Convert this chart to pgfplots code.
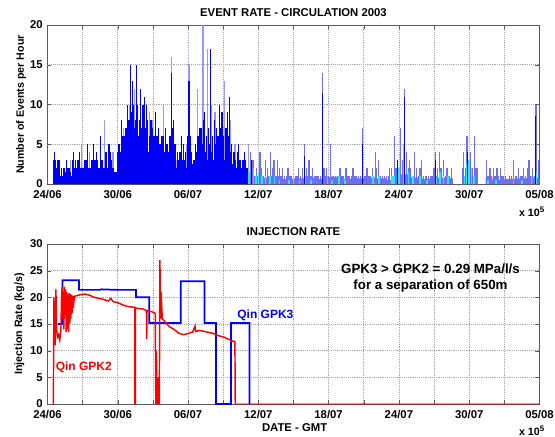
\documentclass[border=0pt]{standalone}
\usepackage{pgfplots}
\pgfplotsset{compat=1.18}
\usepackage{fontspec}
\setmainfont{Liberation Sans}
\definecolor{dkb}{RGB}{0,0,245}
\definecolor{ltb}{RGB}{150,150,255}
\definecolor{peri}{RGB}{110,110,245}
\definecolor{cyn}{RGB}{40,230,255}
\definecolor{axc}{RGB}{90,90,90}
\pgfplotsset{
  mstyle/.style={
    scale only axis, width=369pt, xmin=0, xmax=42,
    xtick={0,3,...,42},
    xticklabels={24/06,,30/06,,06/07,,12/07,,18/07,,24/07,,30/07,,05/08},
    xticklabel style={yshift=-1pt},
    grid=major, grid style={densely dotted, black!35},
    tick align=inside, major tick length=3pt,
    axis line style={axc}, tick style={axc},
    tick label style={font=\bfseries\fontsize{8.5}{10}\selectfont},
    /pgf/number format/assume math mode=true,
    title style={font=\bfseries\fontsize{8.5}{10}\selectfont, yshift=-3pt},
  }
}
\begin{document}
\begin{tikzpicture}
\useasboundingbox (0,0) rectangle (416.25pt,-327pt);
\begin{axis}[mstyle, at={(35.6pt,-138pt)}, anchor=south west, height=119.25pt,
  ymin=0, ymax=20, ytick={0,5,...,20},
  title={EVENT RATE - CIRCULATION 2003}]
% light peaks (behind)
\addplot[ycomb, ltb, line width=0.9pt] coordinates {
(2.91,5)(4.86,8)(6.5,7)(7.0,10)(7.4,12)(8.2,10)(9.0,8)(10.58,16)(11.9,5)(12.08,15)(12.8,12)(13.28,20)(13.64,17)(14.0,10)(15.14,13)(16.0,5)(17.18,5)(5.6,4)(3.6,4)(2.0,3)(8.7,9)(9.9,10)(14.3,9)(15.6,8)};
% base fill
\addplot[const plot, fill=dkb, draw=none] coordinates {
(0.5,1.5)(1.0,1)(1.5,1.5)(2.0,1)(2.5,1.5)(3.0,1.5)(3.5,2)(4.0,1.5)(4.5,2)(5.0,2)(5.5,1.5)(6.0,2)(6.5,3)(7.0,4)(7.5,4.5)(8.0,4)(8.5,3.5)(9.0,3)(9.5,3.5)(10.0,3)(10.5,3)(11.0,1.5)(11.5,2)(12.0,2.5)(12.5,2)(13.0,2.5)(13.5,3)(14.0,3)(14.5,2.5)(15.0,3)(15.5,2.5)(16.0,2)(16.5,2)(17.0,1.5)(17.2,0)} \closedcycle;
\addplot[const plot, fill=peri, draw=none] coordinates {
(17.2,1)(18,0.8)(19,1)(20,0.6)(21,0.7)(22,0.8)(23,0.6)(24,0.9)(25,0.6)(26,0.7)(27,0.8)(28,0.7)(29,0.5)(29.5,1)(30,1.2)(31,0.8)(32,0.6)(33,0.8)(34,0.7)(34.6,0)(35.4,1)(36.7,0)(37.4,0.7)(38,0.5)(39,0.6)(40,0.7)(41,0.8)(42,0.8)} \closedcycle;
% base dense
\addplot[ycomb, dkb, line width=1.8pt] coordinates {
(0.6,3)(0.8,2)(1.0,3)(1.2,1)(1.4,2)(1.6,1)(1.8,2)(2.0,1)(2.2,3)(2.4,2)(2.6,3)(2.8,2)(3.0,2)(3.2,1)(3.4,3)(3.6,2)(3.8,3)(4.0,2)(4.2,3)(4.4,2)(4.6,3)(4.8,2)(5.0,3)(5.2,2)(5.4,3)(5.6,2)(5.8,1)(6.0,3)(6.2,4)(6.4,3)(6.6,5)(6.8,5)(7.0,6)(7.2,6)(7.4,7)(7.6,6)(7.8,6)(8.0,5)(8.2,6)(8.4,5)(8.6,4)(8.8,5)(9.0,4)(9.2,5)(9.4,4)(9.6,5)(9.8,3)(10.0,4)(10.2,3)(10.4,4)(10.6,6)(10.8,4)(11.0,2)(11.2,3)(11.4,2)(11.6,3)(11.8,2)(12.0,4)(12.2,3)(12.4,2)(12.6,3)(12.8,4)(13.0,3)(13.2,5)(13.4,4)(13.6,3)(13.8,5)(14.0,4)(14.2,3)(14.4,4)(14.6,3)(14.8,5)(15.0,4)(15.2,3)(15.4,4)(15.6,3)(15.8,2)(16.0,3)(16.2,2)(16.4,3)(16.6,2)(16.8,3)(17.0,2)};
% mid dark
\addplot[ycomb, dkb, line width=1.0pt] coordinates {
(1.2,2)(2.4,3)(3.2,3)(4.0,3)(5.0,4)(5.4,4)(6.1,5)(6.45,6)(6.7,7)(6.95,8)(7.15,9)(7.35,10)(7.5,8)(7.65,9)(7.85,8)(8.05,7)(8.15,10)(8.4,7)(8.55,8)(8.75,6)(8.95,7)(9.1,6)(9.35,6)(9.6,5)(9.85,6)(10.15,5)(10.4,6)(10.7,7)(10.9,5)(11.3,4)(11.6,5)(11.95,6)(12.2,6)(12.65,5)(12.85,6)(13.1,7)(13.3,8)(13.55,6)(13.75,7)(14.1,6)(14.35,5)(14.55,6)(14.8,7)(15.05,6)(15.25,7)(15.45,6)(15.65,4)(15.9,4)(16.2,4)(16.5,3)(16.8,4)};
% dark peaks
\addplot[ycomb, dkb, line width=0.8pt] coordinates {
(0.6,4)(0.9,3)(1.65,3)(2.25,4)(2.7,4)(3.4,5)(3.9,5)(4.2,4)(4.5,6)(5.25,5)(6.0,4)(6.3,8)(6.59,6)(6.83,10)(7.1,15)(7.28,13)(7.58,15)(7.7,10)(7.94,12)(8.09,9)(8.3,11)(8.48,10)(8.84,8)(9.23,9)(9.5,7)(9.74,6)(10.04,7)(10.28,5)(10.58,14)(10.79,8)(11.09,4)(11.45,6)(11.78,4)(12.08,13)(12.29,4)(12.5,3)(12.98,7)(13.43,9)(13.94,17)(14.24,8)(14.45,7)(14.69,10)(14.9,9)(15.38,9)(15.53,11)(15.74,5)(15.98,4)(16.34,5)(16.64,3)(16.94,3)};
% later period
\addplot[ycomb, peri, line width=0.9pt] coordinates {
(17.3,4)(17.45,2)(17.54,3)(17.7,1)(17.85,2)(18.0,1)(18.14,4)(18.3,2)(18.45,1)(18.59,3)(18.75,2)(18.9,1)(19.04,4)(19.2,2)(19.33,3)(19.5,1)(19.63,3)(19.8,2)(19.95,1)(20.08,2)(20.25,1)(20.4,1)(20.53,2)(20.7,1)(20.85,1)(20.98,1)(21.15,1)(21.3,1)(21.43,2)(21.6,1)(21.8,2)(21.97,5)(22.1,2)(22.2,1)(22.33,3)(22.5,1)(22.63,2)(22.8,1)(22.93,1)(23.1,1)(23.3,1)(23.47,14)(23.6,2)(23.7,1)(23.83,2)(24.0,1)(24.13,5)(24.3,1)(24.45,1)(24.58,1)(24.75,1)(24.97,2)(25.15,1)(25.3,1)(25.48,2)(25.65,1)(25.8,1)(25.95,1)(26.08,2)(26.25,1)(26.4,1)(26.53,1)(26.7,1)(26.89,7)(27.05,1)(27.15,1)(27.28,2)(27.45,1)(27.58,1)(27.75,2)(27.97,4)(28.1,2)(28.27,3)(28.45,1)(28.63,1)(28.8,1)(28.93,1)(29.1,1)(29.23,2)(29.4,2)(29.59,6)(29.75,2)(29.9,3)(30.0,2)(30.13,7)(30.3,3)(30.49,12)(30.67,4)(30.8,2)(30.88,3)(31.0,2)(31.15,1)(31.32,4)(31.5,2)(31.65,1)(31.8,2)(31.92,3)(32.1,1)(32.25,1)(32.37,1)(32.55,1)(32.7,1)(32.82,1)(33.0,2)(33.12,4)(33.3,2)(33.48,4)(33.6,2)(33.78,3)(33.95,1)(34.05,2)(34.17,2)(34.3,1)(34.47,2)(35.45,2)(35.52,4)(35.7,2)(35.82,6)(35.95,3)(36.12,4)(36.3,2)(36.42,6)(36.55,2)(36.66,2)(37.48,3)(37.6,1)(37.78,2)(37.9,1)(38.08,2)(38.2,1)(38.38,2)(38.5,1)(38.67,2)(38.8,1)(38.95,1)(39.12,1)(39.42,1)(39.6,1)(39.81,3)(39.95,1)(40.05,1)(40.2,2)(40.35,1)(40.5,1)(40.65,2)(40.8,1)(40.95,2)(41.1,3)(41.25,1)(41.4,2)(41.55,1)(41.7,10)(41.91,3)};
\addplot[ycomb, cyn, line width=1.1pt] coordinates {
(17.2,1.5)(17.4,1)(17.6,2)(17.8,1)(18.0,1.5)(18.3,1)(18.6,1)(19.0,1)(19.4,1)(19.8,0.5)(20.6,0.5)(21.0,1)(21.5,0.5)(22.0,1)(22.5,0.5)(23.47,3)(23.9,1)(24.3,0.5)(24.9,1)(25.4,0.5)(26.9,2)(27.8,1)(28.3,1)(29.4,1)(29.6,1)(30.0,2)(30.4,5)(30.8,1.5)(31.2,1)(31.8,1)(32.4,0.5)(33.2,1)(33.5,1.5)(33.8,1)(34.2,1)(35.6,1)(35.8,2.5)(36.0,3)(36.2,2)(36.4,1)(37.6,0.5)(38.3,0.5)(39.8,0.5)(40.5,0.5)(41.3,1)(41.7,1.5)};
\addplot[ycomb, dkb, line width=0.7pt] coordinates {
(17.4,3)(21.97,3.5)(23.47,11.5)(26.89,5)(29.9,3)(30.49,11)(33.12,3)(35.82,4)(41.7,8.5)};
\end{axis}
\begin{axis}[mstyle, at={(35.6pt,-303pt)}, anchor=south west, height=120pt,
  ymin=0, ymax=30, ytick={0,5,...,30},
  title={INJECTION RATE}]
\addplot[red, line width=0.8pt, opacity=0.45] coordinates {(16.03,0)(42,0)};
\addplot[blue, line width=1.3pt] coordinates {
(0.9,15)(1.29,15)(1.29,23.2)(2.7,23.2)(2.7,21.4)(4.5,21.4)(4.6,21.5)(6.0,21.4)(7.56,21.4)(7.56,20)(8.69,20)(8.69,15.2)(11.37,15.2)(11.37,23)(13.4,23)(13.4,15.2)(14.39,15.2)(14.39,0)(15.66,0)(15.66,15.2)(17.25,15.2)(17.25,0)};
\addplot[red, line width=1.1pt] coordinates {
(0.5,0)(0.55,20)(0.6,15)(0.65,11)(0.72,21.5)(0.78,14)(0.85,12.5)(0.95,13)(1.05,12)(1.15,14)(1.2,20)(1.25,22)(1.3,16)(1.35,21)(1.4,14)(1.45,22)(1.5,17)(1.55,21.5)(1.6,13.5)(1.65,21)(1.7,14)(1.75,20.5)(1.8,13.5)(1.85,20.8)(1.9,15)(1.95,20.6)(2.0,16)(2.05,20.5)(2.1,17)(2.15,20.3)(2.2,18)(2.3,20.2)(2.5,20.3)(2.8,20.5)(3.2,20.6)(3.6,20.4)(4.0,20.0)(4.4,19.8)(4.8,19.6)(5.2,19.3)(5.4,19.8)(5.6,19.2)(6.0,19.0)(6.4,18.6)(6.8,18.3)(7.2,18.2)(7.47,18.1)(7.47,0)(7.5,0)(7.5,18.0)(7.8,17.9)(8.2,17.8)(8.45,17.5)(8.47,12.2)(8.5,17.5)(8.9,17.3)(9.2,17.0)(9.25,0)(9.3,10)(9.35,0)(9.4,5)(9.45,0)(9.5,4)(9.55,0)(9.6,27)(9.65,16)(9.7,21)(9.8,16)(10.0,15.5)(10.4,14.5)(10.8,14)(11.2,13.3)(11.6,13.0)(12.0,13.2)(12.4,13.5)(12.6,14.6)(12.65,13.6)(13.0,13.8)(13.4,13.6)(13.8,13.4)(14.2,13.2)(14.6,12.8)(15.0,12.6)(15.4,12.2)(15.8,11.8)(16.0,11.7)(16.03,0)};
\node[red, font=\bfseries\fontsize{9}{10}\selectfont] at (axis cs:3.1,6.9) {Qin GPK2};
\node[blue, font=\bfseries\fontsize{9}{10}\selectfont] at (axis cs:18.6,16.7) {Qin GPK3};
\node[align=center, font=\bfseries\fontsize{10}{12}\selectfont] at (axis cs:32.7,23.6) {GPK3 > GPK2 = 0.29 MPa/l/s\\for a separation of 650m};
\end{axis}
\node[rotate=90, font=\bfseries\fontsize{8}{10}\selectfont] at (15.75pt,-78.4pt) {Number of Events per Hour};
\node[rotate=90, font=\bfseries\fontsize{8}{10}\selectfont] at (14.6pt,-243pt) {Injection Rate (kg/s)};
\node[font=\bfseries\fontsize{8.5}{10}\selectfont] at (221pt,-321pt) {DATE - GMT};
\node[font=\bfseries\fontsize{8}{10}\selectfont] at (399pt,-159pt) {x 10\textsuperscript{5}};
\node[font=\bfseries\fontsize{8}{10}\selectfont] at (399pt,-323pt) {x 10\textsuperscript{5}};
\end{tikzpicture}
\end{document}
